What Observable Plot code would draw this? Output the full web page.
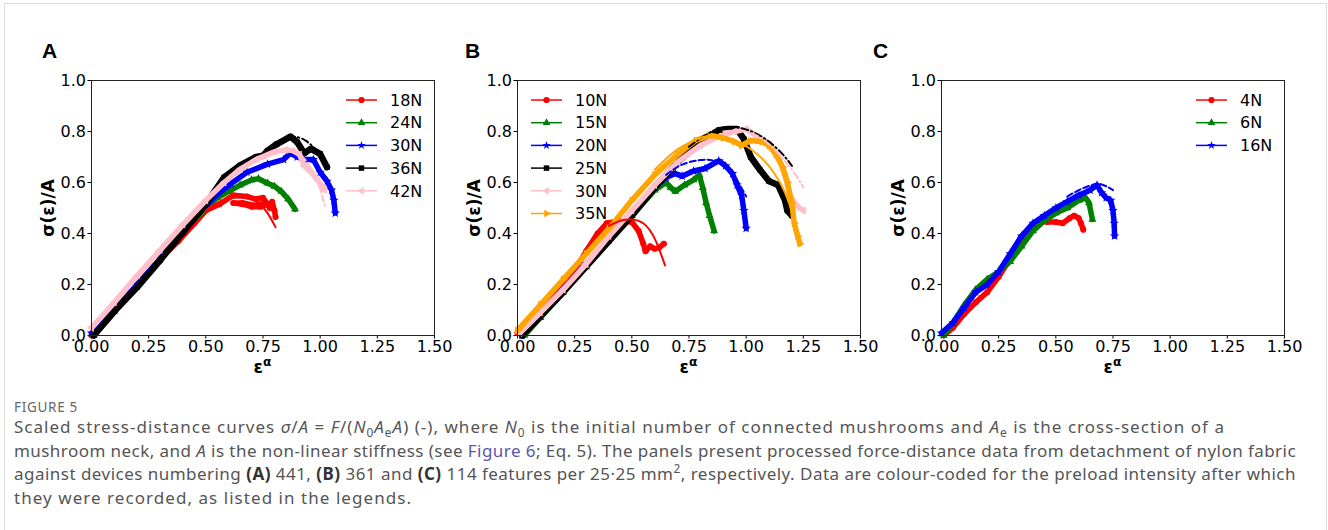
<!DOCTYPE html>
<html><head><meta charset="utf-8">
<script src="https://cdn.jsdelivr.net/npm/d3@7"></script>
<script src="https://cdn.jsdelivr.net/npm/@observablehq/plot@0.6"></script>
<style>
body{margin:0;background:#fff;width:1328px;height:530px;overflow:hidden;position:relative;font-family:"DejaVu Sans",sans-serif;}
.border{position:absolute;left:4px;top:3px;width:1321px;height:600px;border:1px solid #dcdcdc;}
.letter{position:absolute;font:bold 21px "Liberation Sans",Arial,sans-serif;line-height:1;color:#000;}
.ylab{position:absolute;font:bold 17px "DejaVu Sans";line-height:1;transform:translate(-50%,-50%) rotate(-90deg);white-space:nowrap;color:#000}
.xlab{position:absolute;font:bold 17px "DejaVu Sans";line-height:1;transform:translateX(-50%);white-space:nowrap;color:#000}
.xlab sup{font-size:0.72em;vertical-align:0.55em;line-height:0}
.panel{position:absolute;top:60px}
.legend{position:absolute;top:0;left:0;pointer-events:none}
.fig{position:absolute;left:14px;top:399px;font:13.5px "Noto Sans";letter-spacing:0.7px;color:#666;line-height:16px}
.cap{position:absolute;left:14px;top:415px;font:17px "Noto Sans";color:#555;line-height:23.5px;white-space:nowrap}
.cap .ln{display:inline-block}
.cap sub,.cap sup{font-size:0.7em;line-height:0}
.cap b{color:#333}
.cap a{color:#5b57a8;text-decoration:none}
</style>
</head><body>
<div class="border"></div>
<div id="root"></div>
<div class="fig">FIGURE 5</div>
<div class="cap"><span class="ln">Scaled stress-distance curves <i>σ</i>/<i>A</i> = <i>F</i>/(<i>N</i><sub>0</sub><i>A</i><sub>e</sub><i>A</i>) (-), where <i>N</i><sub>0</sub> is the initial number of connected mushrooms and <i>A</i><sub>e</sub> is the cross-section of a</span><br><span class="ln">mushroom neck, and <i>A</i> is the non-linear stiffness (see <a>Figure 6</a>; Eq. 5). The panels present processed force-distance data from detachment of nylon fabric</span><br><span class="ln">against devices numbering <b>(A)</b> 441, <b>(B)</b> 361 and <b>(C)</b> 114 features per 25·25 mm<sup>2</sup>, respectively. Data are colour-coded for the preload intensity after which</span><br><span class="ln">they were recorded, as listed in the legends.</span></div>
<script>
// ---------- tick values / labels ----------
const xTicks = [0, 0.25, 0.5, 0.75, 1.0, 1.25, 1.5];
const yTicks = [0, 0.2, 0.4, 0.6, 0.8, 1.0];
const panelLetters = ["A", "B", "C"];
const yTitle = "σ(ε)/A";
const xTitle = "ε";
const xTitleSup = "α";

// ---------- legends ----------
const labelsA = ["18N", "24N", "30N", "36N", "42N"];
const labelsB = ["10N", "15N", "20N", "25N", "30N", "35N"];
const labelsC = ["4N", "6N", "16N"];
const colorsA = ["red", "green", "blue", "black", "pink"];
const colorsB = ["red", "green", "blue", "black", "pink", "orange"];
const colorsC = ["red", "green", "blue"];
const markersA = ["circle", "triangle", "star", "square", "triLeft"];
const markersB = ["circle", "triangle", "star", "square", "triLeft", "triRight"];
const markersC = ["circle", "triangle", "star"];

// ---------- panel A data (eps^alpha, sigma/A) ----------
const a18 = [[0,0],[0.1,0.1],[0.2,0.2],[0.3,0.3],[0.38,0.37],[0.45,0.44],[0.5,0.49],[0.56,0.515],[0.62,0.55],[0.68,0.545],[0.72,0.535],[0.75,0.54],[0.77,0.515],[0.74,0.505],[0.7,0.505],[0.66,0.515],[0.62,0.52],[0.66,0.52],[0.72,0.51],[0.76,0.52],[0.78,0.5],[0.79,0.525],[0.8,0.49],[0.805,0.465]];
const a24 = [[0.01,0],[0.1,0.095],[0.2,0.195],[0.3,0.3],[0.4,0.41],[0.5,0.5],[0.55,0.54],[0.6,0.565],[0.65,0.59],[0.7,0.61],[0.73,0.615],[0.77,0.597],[0.8,0.585],[0.83,0.565],[0.86,0.535],[0.89,0.495]];
const a30 = [[0,0.01],[0.1,0.1],[0.2,0.2],[0.3,0.3],[0.4,0.41],[0.5,0.51],[0.56,0.56],[0.61,0.595],[0.68,0.64],[0.77,0.672],[0.84,0.69],[0.87,0.715],[0.9,0.7],[0.93,0.69],[0.97,0.69],[1.0,0.64],[1.03,0.605],[1.05,0.57],[1.06,0.53],[1.066,0.48]];
const a36 = [[0.01,0],[0.1,0.095],[0.2,0.19],[0.3,0.295],[0.4,0.405],[0.5,0.515],[0.58,0.62],[0.65,0.667],[0.72,0.7],[0.75,0.705],[0.77,0.725],[0.81,0.75],[0.87,0.78],[0.9,0.758],[0.93,0.715],[0.96,0.732],[1.0,0.712],[1.03,0.66]];
const a42 = [[0,0.03],[0.1,0.13],[0.2,0.235],[0.3,0.335],[0.4,0.435],[0.5,0.53],[0.58,0.6],[0.65,0.652],[0.72,0.69],[0.8,0.72],[0.85,0.728],[0.88,0.725],[0.91,0.71],[0.93,0.665],[0.96,0.64],[0.99,0.608],[1.01,0.585],[1.02,0.57]];
const fitA18 = [[0.5,0.49],[0.56,0.525],[0.62,0.54],[0.68,0.54],[0.73,0.52],[0.77,0.48],[0.805,0.425]];
const fitA36 = [[0.8,0.755],[0.86,0.775],[0.9,0.778],[0.94,0.762],[0.98,0.73]];
const fitA42 = [[0.85,0.73],[0.9,0.72],[0.95,0.67],[0.99,0.6],[1.02,0.51]];

// ---------- panel B data ----------
const b10 = [[0,0.01],[0.1,0.11],[0.2,0.2],[0.26,0.27],[0.3,0.33],[0.35,0.4],[0.39,0.44],[0.45,0.45],[0.5,0.445],[0.53,0.41],[0.55,0.36],[0.56,0.33],[0.58,0.35],[0.6,0.34],[0.62,0.345],[0.64,0.36]];
const b15 = [[0.03,0],[0.1,0.07],[0.2,0.17],[0.3,0.27],[0.4,0.38],[0.5,0.47],[0.6,0.57],[0.65,0.6],[0.67,0.58],[0.69,0.565],[0.73,0.59],[0.77,0.61],[0.795,0.63],[0.81,0.58],[0.825,0.52],[0.84,0.47],[0.86,0.41]];
const b20 = [[0.02,0],[0.1,0.08],[0.2,0.18],[0.3,0.28],[0.4,0.38],[0.5,0.48],[0.6,0.58],[0.65,0.62],[0.69,0.635],[0.72,0.625],[0.77,0.645],[0.82,0.655],[0.88,0.685],[0.91,0.665],[0.94,0.635],[0.96,0.59],[0.98,0.55],[0.99,0.49],[1.0,0.42]];
const b25 = [[0.02,0],[0.1,0.075],[0.2,0.17],[0.3,0.27],[0.4,0.37],[0.5,0.47],[0.6,0.58],[0.7,0.68],[0.76,0.725],[0.83,0.775],[0.88,0.805],[0.92,0.81],[0.96,0.81],[0.99,0.77],[1.02,0.7],[1.06,0.65],[1.1,0.605],[1.14,0.59],[1.17,0.53],[1.18,0.49],[1.2,0.47]];
const b30 = [[0.01,0.01],[0.1,0.09],[0.2,0.18],[0.3,0.28],[0.4,0.39],[0.5,0.49],[0.6,0.59],[0.7,0.68],[0.8,0.745],[0.88,0.78],[0.95,0.8],[1.0,0.81],[1.05,0.78],[1.1,0.75],[1.14,0.7],[1.17,0.63],[1.19,0.55],[1.22,0.51],[1.25,0.49]];
const b35 = [[0,0.02],[0.1,0.12],[0.2,0.22],[0.3,0.32],[0.4,0.42],[0.5,0.53],[0.6,0.63],[0.7,0.71],[0.78,0.765],[0.84,0.785],[0.9,0.775],[0.95,0.76],[0.98,0.745],[1.02,0.765],[1.07,0.76],[1.1,0.745],[1.13,0.71],[1.16,0.66],[1.18,0.6],[1.2,0.52],[1.21,0.44],[1.225,0.39],[1.235,0.36]];
const fitB10 = [[0.4,0.43],[0.45,0.45],[0.5,0.455],[0.55,0.44],[0.6,0.38],[0.645,0.275]];
const fitB20 = [[0.65,0.63],[0.72,0.67],[0.8,0.688],[0.86,0.685],[0.92,0.655],[0.96,0.61],[1.0,0.545]];
const fitB25 = [[0.75,0.74],[0.85,0.8],[0.95,0.817],[1.06,0.784],[1.15,0.72],[1.2,0.665]];
const fitB30 = [[0.9,0.8],[1.0,0.8],[1.1,0.75],[1.2,0.65],[1.25,0.58]];
const fitB35 = [[0.6,0.65],[0.7,0.73],[0.8,0.775],[0.86,0.785],[0.95,0.765],[1.05,0.71],[1.12,0.64],[1.17,0.56],[1.21,0.46]];

// ---------- panel C data ----------
const c4 = [[0.01,0],[0.05,0.03],[0.1,0.085],[0.15,0.13],[0.2,0.17],[0.25,0.23],[0.3,0.3],[0.35,0.37],[0.4,0.43],[0.43,0.455],[0.46,0.445],[0.5,0.445],[0.53,0.44],[0.56,0.46],[0.58,0.47],[0.6,0.46],[0.61,0.44],[0.62,0.415]];
const c6 = [[0.01,0],[0.05,0.05],[0.1,0.12],[0.15,0.18],[0.2,0.22],[0.25,0.25],[0.3,0.29],[0.35,0.35],[0.4,0.41],[0.45,0.45],[0.5,0.48],[0.55,0.5],[0.6,0.53],[0.63,0.54],[0.645,0.52],[0.66,0.455]];
const c16 = [[0,0.01],[0.05,0.05],[0.1,0.11],[0.15,0.17],[0.2,0.2],[0.25,0.25],[0.3,0.32],[0.35,0.39],[0.4,0.44],[0.45,0.47],[0.5,0.5],[0.55,0.525],[0.6,0.55],[0.65,0.57],[0.68,0.59],[0.7,0.56],[0.72,0.54],[0.74,0.53],[0.75,0.49],[0.755,0.44],[0.757,0.39]];
const fitC16 = [[0.55,0.545],[0.6,0.57],[0.65,0.588],[0.7,0.592],[0.75,0.57]];

// ---------- caption line end positions (px) ----------
const captionLineEnds = [1225, 1296, 1296, 412];

// ---------- build ----------
const DASH = "6,3", DASHDOT = "7,3,1.5,3";
const symbolMap = {circle: "circle", triangle: "triangle", star: "star", square: "square", triLeft: "triangle", triRight: "triangle"};
const rotMap = {triLeft: -90, triRight: 90};

const panels = [
  {svgLeft: 0, mL: 91, mR: 15, letterX: 42, data: [a18, a24, a30, a36, a42], labels: labelsA, colors: colorsA, markers: markersA,
   fits: [[fitA18, "red", null], [fitA36, "black", DASHDOT], [fitA42, "pink", DASH]], legendX: 346},
  {svgLeft: 440, mL: 77, mR: 10, letterX: 465, data: [b10, b15, b20, b25, b30, b35], labels: labelsB, colors: colorsB, markers: markersB,
   fits: [[fitB10, "red", null], [fitB20, "blue", DASH], [fitB25, "black", DASHDOT], [fitB30, "pink", DASHDOT], [fitB35, "orange", null]], legendX: 531},
  {svgLeft: 870, mL: 71, mR: 13, letterX: 873, data: [c4, c6, c16], labels: labelsC, colors: colorsC, markers: markersC,
   fits: [[fitC16, "blue", DASH]], legendX: 1196}
];
const plotW = 343, plotH = 255, mT = 20, mB = 30, svgTop = 60;
const root = document.getElementById("root");

panels.forEach((p, i) => {
  const marks = [];
  p.data.forEach((arr, k) => {
    const c = p.colors[k];
    marks.push(Plot.line(arr, {x: d => d[0], y: d => d[1], stroke: c, strokeWidth: c === "black" ? 6.5 : 5.5, strokeLinejoin: "round", strokeLinecap: "round"}));
    marks.push(Plot.dot(arr, {x: d => d[0], y: d => d[1], fill: c, r: 3, symbol: symbolMap[p.markers[k]], rotate: rotMap[p.markers[k]] || 0}));
  });
  p.fits.forEach(([arr, c, dash]) => {
    marks.push(Plot.line(arr, {x: d => d[0], y: d => d[1], stroke: c, strokeWidth: 2, strokeDasharray: dash || null, curve: "natural"}));
  });
  const chart = Plot.plot({
    width: p.mL + plotW + p.mR, height: mT + plotH + mB,
    marginLeft: p.mL, marginRight: p.mR, marginTop: mT, marginBottom: mB,
    style: {fontFamily: "DejaVu Sans", fontSize: "16px", color: "#000", background: "transparent", overflow: "visible"},
    x: {domain: [0, 1.5]},
    y: {domain: [0, 1]},
    marks: [
      Plot.axisX({ticks: xTicks, tickFormat: d => d.toFixed(2), tickSize: 3.5, tickPadding: 2, label: null, fontSize: 16}),
      Plot.axisY({ticks: yTicks, tickFormat: d => d.toFixed(1), tickSize: 3.5, tickPadding: 2, label: null, fontSize: 16}),
      ...marks,
      Plot.frame({stroke: "#222", strokeWidth: 1})
    ]
  });
  const wrap = document.createElement("div");
  wrap.className = "panel";
  wrap.style.left = p.svgLeft + "px";
  wrap.appendChild(chart);
  root.appendChild(wrap);

  const fx0 = p.svgLeft + p.mL, fy0 = svgTop + mT;
  const L = document.createElement("div");
  L.className = "letter"; L.textContent = panelLetters[i];
  L.style.left = p.letterX + "px"; L.style.top = "40px";
  root.appendChild(L);
  const Y = document.createElement("div");
  Y.className = "ylab"; Y.textContent = yTitle;
  Y.style.left = (fx0 - 43.5) + "px"; Y.style.top = (fy0 + plotH / 2) + "px";
  root.appendChild(Y);
  const X = document.createElement("div");
  X.className = "xlab"; X.innerHTML = xTitle + "<sup>" + xTitleSup + "</sup>";
  X.style.left = (fx0 + plotW / 2) + "px"; X.style.top = "359px";
  root.appendChild(X);

  const svg = d3.create("svg").attr("class", "legend").attr("width", 1328).attr("height", 530)
    .style("position", "absolute").style("left", "0px").style("top", "0px");
  p.labels.forEach((lab, k) => {
    const yy = 100 + k * 22.7, c = p.colors[k], m = p.markers[k];
    svg.append("line").attr("x1", p.legendX).attr("x2", p.legendX + 31).attr("y1", yy).attr("y2", yy)
      .attr("stroke", c).attr("stroke-width", 1.5);
    const symType = {circle: d3.symbolCircle, triangle: d3.symbolTriangle, star: d3.symbolStar, square: d3.symbolSquare, triLeft: d3.symbolTriangle, triRight: d3.symbolTriangle}[m];
    const size = {circle: 30, triangle: 26, star: 22, square: 30, triLeft: 26, triRight: 26}[m];
    svg.append("path").attr("d", d3.symbol(symType, size)())
      .attr("transform", `translate(${p.legendX + 15.5},${yy}) rotate(${rotMap[m] || 0})`)
      .attr("fill", c);
    svg.append("text").attr("x", p.legendX + 44).attr("y", yy).attr("dy", "0.36em")
      .attr("font-family", "DejaVu Sans").attr("font-size", 16).attr("fill", "#000").text(lab);
  });
  root.appendChild(svg.node());
});

// fit caption lines to the reference widths
document.querySelectorAll(".cap .ln").forEach((el, k) => {
  const w = el.getBoundingClientRect().width;
  const n = el.textContent.length;
  const target = captionLineEnds[k] - 14;
  el.style.letterSpacing = ((target - w) / n) + "px";
});
</script>
</body></html>
